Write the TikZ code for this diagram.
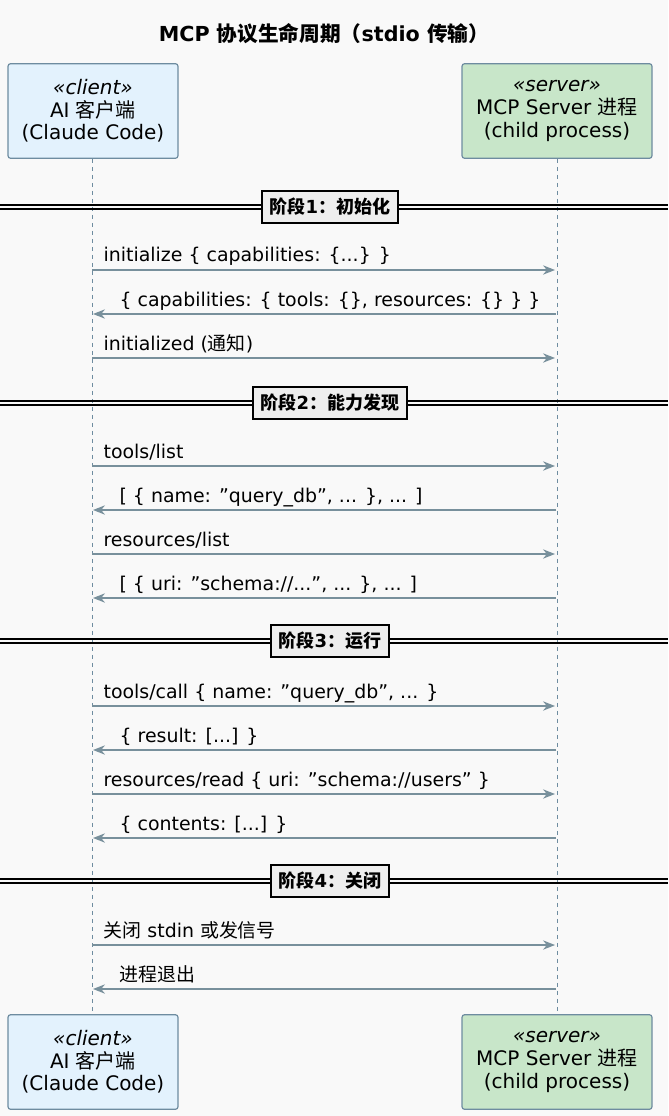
\documentclass[tikz,border=0pt]{standalone}
\usepackage{fontspec}
\setmainfont{DejaVu Sans}
\newfontfamily\cjk{Noto Sans CJK SC}
\usetikzlibrary{arrows.meta}
\definecolor{bgpage}{RGB}{249,249,249}
\definecolor{clientfill}{RGB}{227,242,253}
\definecolor{serverfill}{RGB}{200,230,201}
\definecolor{boxline}{RGB}{110,140,160}
\definecolor{msgline}{RGB}{120,144,156}
\definecolor{phasefill}{RGB}{238,238,238}
\newcommand{\qq}{\char34}
\tikzset{
  every path/.style={line width=0.9pt},
  party/.style={draw=boxline, rounded corners=2pt, align=center, font=\fontsize{15}{17}\selectfont, inner sep=2pt},
  client/.style={party, fill=clientfill, minimum width=127.5pt, minimum height=71pt},
  server/.style={party, fill=serverfill, minimum width=142.5pt, minimum height=71pt},
  life/.style={draw=boxline, dash pattern=on 3pt off 3pt, line width=0.5pt},
  msg/.style={draw=msgline, -{Stealth[length=9pt,width=7pt]}},
  msgtext/.style={anchor=base west, font=\fontsize{14.2}{16}\selectfont, inner sep=0pt},
  phase/.style={draw=black, line width=1.3pt, fill=phasefill, font=\bfseries\fontsize{13.5}{15}\selectfont, minimum height=24pt, inner xsep=6pt},
}
\begin{document}
\begin{tikzpicture}[x=0.75pt, y=-0.75pt]
\fill[bgpage] (0,0) rectangle (668,1116);
\useasboundingbox (0,0) rectangle (668,1116);
\node (title) at (324,34) {\bfseries\fontsize{15.5}{17}\selectfont MCP {\cjk 协议生命周期（}stdio {\cjk 传输）}};
% participants
\node[client] (ctop) at (93,111) {\itshape «client»\\AI {\cjk 客户端}\\(Claude Code)};
\node[server] (stop) at (557,111) {\itshape «server»\\MCP Server {\cjk 进程}\\(child process)};
\node[client] (cbot) at (93,1062) {\itshape «client»\\AI {\cjk 客户端}\\(Claude Code)};
\node[server] (sbot) at (557,1062) {\itshape «server»\\MCP Server {\cjk 进程}\\(child process)};
\draw[life] (ctop.south -| 92,0) -- (cbot.north -| 92,0);
\draw[life] (stop.south) -- (sbot.north);
% phases
\foreach \y/\t in {207/1\cjk{：初始化}, 403/2\cjk{：能力发现}, 641/3\cjk{：运行}, 881/4\cjk{：关闭}} {
  \draw[line width=0.8pt] (0,\y-2) -- (668,\y-2) (0,\y+2) -- (668,\y+2);
  \node[phase] at (330,\y) {{\cjk 阶段}\t};
}
% messages
\foreach \y/\d/\t in {
  270/r/{initialize \{ capabilities: \{...\} \}},
  314/l/{\{ capabilities: \{ tools: \{\}, resources: \{\} \} \}},
  358/r/{initialized ({\cjk 通知})},
  466/r/{tools/list},
  510/l/{[ \{ name: \qq query\_db\qq, ... \}, ... ]},
  554/r/{resources/list},
  598/l/{[ \{ uri: \qq schema://...\qq, ... \}, ... ]},
  706/r/{tools/call \{ name: \qq query\_db\qq, ... \}},
  750/l/{\{ result: [...] \}},
  794/r/{resources/read \{ uri: \qq schema://users\qq\ \}},
  838/l/{\{ contents: [...] \}},
  945/r/{{\cjk 关闭} stdin {\cjk 或发信号}},
  989/l/{{\cjk 进程退出}}} {
  \if\d r
    \draw[msg] (92,\y) -- (555,\y);
    \node[msgtext] at (103,\y-8) {\t};
  \else
    \draw[msg] (556,\y) -- (93,\y);
    \node[msgtext] at (119,\y-8) {\t};
  \fi
}
\end{tikzpicture}
\end{document}
